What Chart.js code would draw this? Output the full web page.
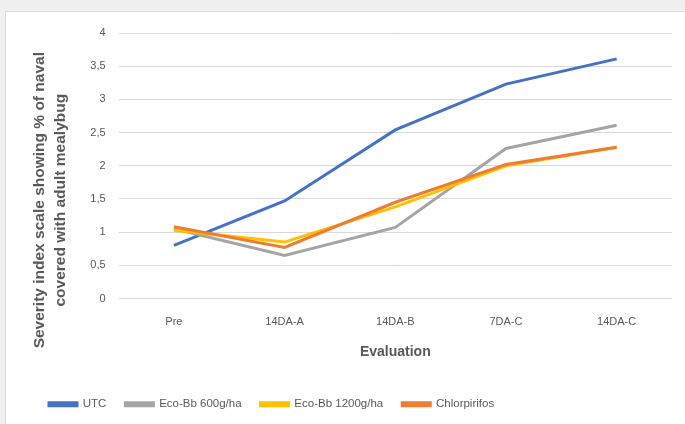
<!DOCTYPE html>
<html>
<head>
<meta charset="utf-8">
<script src="https://cdn.jsdelivr.net/npm/chart.js@4"></script>
<style>
  html, body { margin: 0; padding: 0; background: #f0f0f0; overflow: hidden; }
  #frame {
    position: absolute; left: 5px; top: 11px; width: 690px; height: 430px;
    background: #fff; border: 1px solid #d9d9d9;
  }
  #wrap { position: absolute; left: 0; top: 0; width: 680px; height: 412px; }
</style>
</head>
<body>
<div id="frame"><div id="wrap"><canvas id="chart"></canvas></div></div>
<script>
const categories = ['Pre', '14DA-A', '14DA-B', '7DA-C', '14DA-C'];
const utc = [0.80, 1.47, 2.54, 3.23, 3.61];
const ecoBb600 = [1.05, 0.65, 1.07, 2.26, 2.61];
const ecoBb1200 = [1.03, 0.85, 1.38, 2.00, 2.28];
const chlorpirifos = [1.08, 0.77, 1.45, 2.02, 2.28];
const yTicks = [0, 0.5, 1, 1.5, 2, 2.5, 3, 3.5, 4];

const textColor = '#595959';
const font = 'Liberation Sans, Arial, sans-serif';
// trailing spaces push the rotated title down, like the original sits lower than the plot centre
const titlePad = ' '.repeat(16);

function series(label, data, color, order) {
    return {
        label: label,
        data: data,
        borderColor: color,
        backgroundColor: color,
        borderWidth: 3,
        pointRadius: 0,
        tension: 0,
        order: order
    };
}

new Chart(document.getElementById('chart'), {
    type: 'line',
    data: {
        labels: categories,
        datasets: [
            series('UTC', utc, '#4472c4', 4),
            series('Eco-Bb 600g/ha', ecoBb600, '#a5a5a5', 3),
            series('Eco-Bb 1200g/ha', ecoBb1200, '#ffc000', 2),
            series('Chlorpirifos', chlorpirifos, '#ed7d31', 1)
        ]
    },
    options: {
        responsive: true,
        maintainAspectRatio: false,
        animation: false,
        layout: { padding: { top: 21, right: 14, left: 24, bottom: 4 } },
        plugins: {
            legend: {
                position: 'bottom',
                align: 'start',
                labels: {
                    boxWidth: 28,
                    boxHeight: 3,
                    padding: 19,
                    color: textColor,
                    font: { family: font, size: 11.5 },
                    sort: (a, b) => a.datasetIndex - b.datasetIndex
                }
            },
            tooltip: { enabled: false }
        },
        scales: {
            x: {
                offset: true,
                grid: { display: false },
                border: { display: false },
                ticks: { color: textColor, font: { family: font, size: 11 }, padding: 9 },
                title: {
                    display: true,
                    text: 'Evaluation',
                    color: textColor,
                    font: { family: font, size: 14, weight: 'bold' },
                    padding: { top: 6, bottom: 19 }
                }
            },
            y: {
                min: 0,
                max: 4,
                afterBuildTicks: axis => { axis.ticks = yTicks.map(v => ({ value: v })); },
                grid: { color: '#d9d9d9', drawTicks: false },
                border: { display: false },
                ticks: {
                    color: textColor,
                    padding: 13,
                    font: { family: font, size: 11 },
                    callback: value => String(value).replace('.', ',')
                },
                title: {
                    display: true,
                    text: ['Severity index scale showing % of naval' + titlePad, 'covered with adult mealybug' + titlePad],
                    color: textColor,
                    font: { family: font, size: 15.5, weight: 'bold', lineHeight: 1.3 },
                    padding: { top: 0, bottom: 7 }
                }
            }
        }
    }
});
</script>
</body>
</html>
